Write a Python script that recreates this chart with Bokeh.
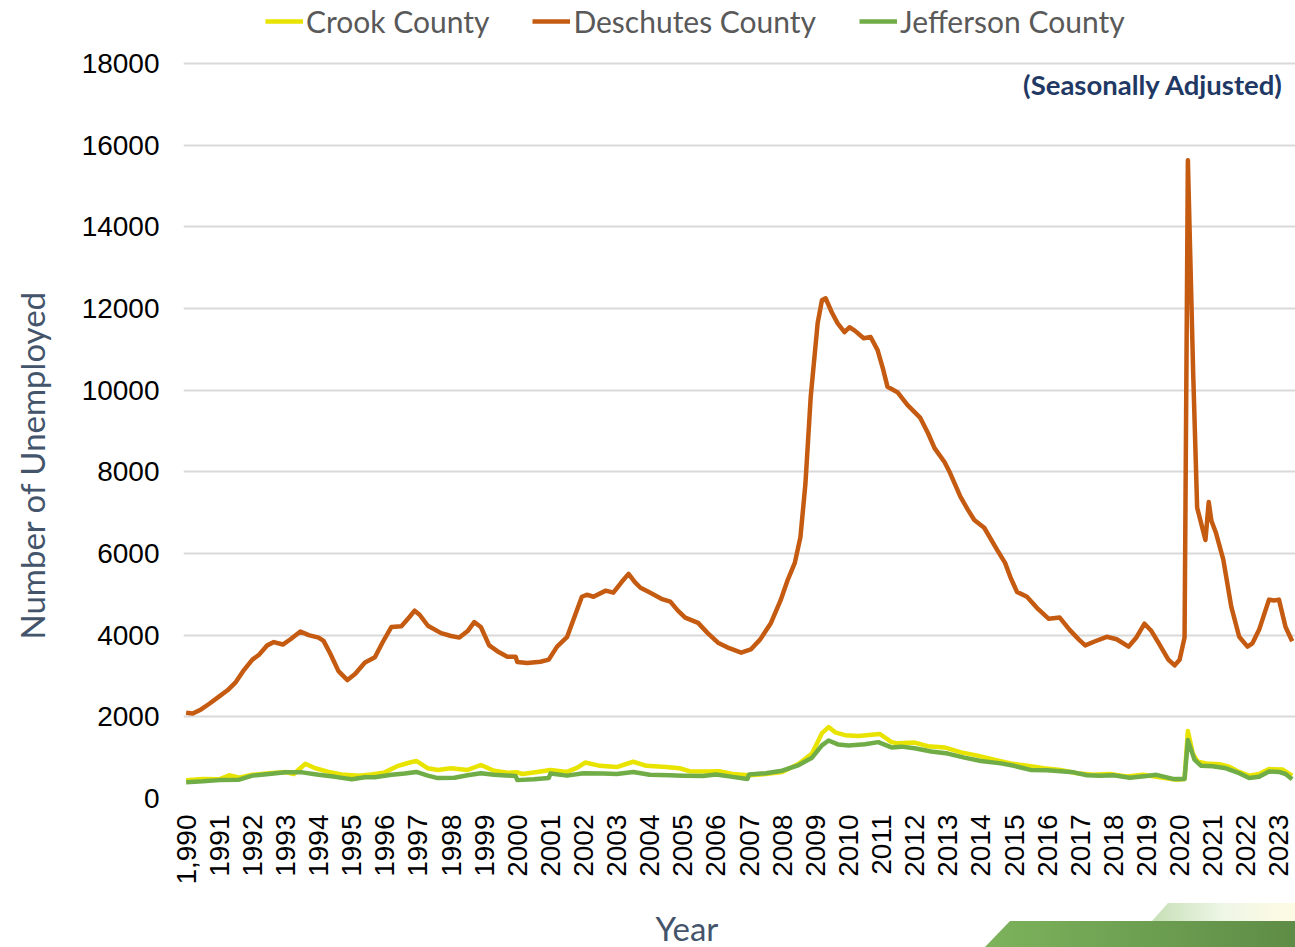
import math
from bokeh.plotting import figure
from bokeh.models import FixedTicker, Label, Legend, LegendItem, Range1d, Title, Div
from bokeh.embed import file_html
from bokeh.resources import INLINE

# ---------------- data ----------------
desch_t = [1990.00, 1990.20, 1990.45, 1990.70, 1991.00, 1991.25, 1991.50, 1991.75,
           1992.00, 1992.20, 1992.45, 1992.65, 1992.92, 1993.15, 1993.45, 1993.70,
           1994.00, 1994.15, 1994.35, 1994.60, 1994.87, 1995.10, 1995.40, 1995.70,
           1995.93, 1996.20, 1996.50, 1996.75, 1996.90, 1997.05, 1997.30, 1997.70,
           1998.00, 1998.25, 1998.50, 1998.70, 1998.90, 1999.15, 1999.45, 1999.70,
           1999.95, 2000.00, 2000.30, 2000.70, 2000.95, 2001.20, 2001.50, 2001.75,
           2001.95, 2002.10, 2002.30, 2002.67, 2002.90, 2003.15, 2003.36, 2003.55,
           2003.72, 2003.96, 2004.35, 2004.62, 2004.85, 2005.07, 2005.46, 2005.75,
           2006.06, 2006.40, 2006.76, 2007.05, 2007.33, 2007.66, 2007.95, 2008.17,
           2008.38, 2008.55, 2008.70, 2008.86, 2009.07, 2009.20, 2009.31, 2009.50,
           2009.67, 2009.88, 2010.03, 2010.20, 2010.46, 2010.67, 2010.88, 2011.05,
           2011.18, 2011.48, 2011.78, 2012.17, 2012.40, 2012.60, 2012.90, 2013.07,
           2013.38, 2013.60, 2013.80, 2014.10, 2014.49, 2014.73, 2014.90, 2015.09,
           2015.39, 2015.69, 2016.05, 2016.38, 2016.68, 2016.96, 2017.15, 2017.45,
           2017.80, 2018.10, 2018.46, 2018.70, 2018.94, 2019.15, 2019.36, 2019.66,
           2019.85, 2020.00, 2020.15, 2020.25, 2020.41, 2020.53, 2020.78, 2020.88,
           2020.96, 2021.10, 2021.32, 2021.56, 2021.80, 2022.05, 2022.20, 2022.40,
           2022.70, 2022.85, 2023.00, 2023.20, 2023.40]
desch_v = [2100, 2080, 2180, 2320, 2500, 2650, 2850, 3150,
           3400, 3520, 3750, 3830, 3770, 3900, 4090, 4000,
           3940, 3860, 3550, 3120, 2900, 3050, 3330, 3460,
           3820, 4200, 4220, 4450, 4600, 4500, 4230, 4050,
           3980, 3940, 4100, 4320, 4200, 3750, 3580, 3470,
           3470, 3340, 3320, 3350, 3400, 3720, 3950, 4500,
           4940, 4990, 4940, 5090, 5040, 5300, 5500, 5300,
           5160, 5060, 4890, 4820, 4600, 4430, 4300, 4050,
           3815, 3680, 3570, 3650, 3890, 4300, 4850, 5360,
           5770, 6400, 7700, 9830, 11640, 12200, 12250, 11900,
           11640, 11420, 11540, 11450, 11270, 11300, 10980, 10500,
           10080, 9950, 9640, 9320, 8950, 8580, 8240, 7970,
           7390, 7080, 6820, 6630, 6090, 5770, 5400, 5060,
           4940, 4670, 4400, 4430, 4130, 3890, 3750, 3850,
           3960, 3900, 3720, 3950, 4280, 4100, 3815, 3400,
           3260, 3400, 3940, 15630, 10420, 7120, 6330, 7260,
           6800, 6500, 5850, 4700, 3960, 3720, 3800, 4130,
           4870, 4850, 4870, 4200, 3850]

crook_t = [1990.00, 1990.50, 1991.00, 1991.30, 1991.60, 1992.00, 1992.50, 1993.00,
           1993.25, 1993.60, 1993.90, 1994.30, 1994.70, 1995.20, 1995.60, 1996.00,
           1996.40, 1996.70, 1996.95, 1997.30, 1997.60, 1998.00, 1998.50, 1998.90,
           1999.30, 1999.70, 2000.00, 2000.15, 2000.60, 2001.00, 2001.50, 2001.80,
           2002.05, 2002.50, 2003.00, 2003.50, 2003.90, 2004.50, 2004.90, 2005.20,
           2005.70, 2006.10, 2006.50, 2007.00, 2007.50, 2008.00, 2008.50, 2008.90,
           2009.20, 2009.40, 2009.60, 2009.90, 2010.30, 2010.70, 2010.95, 2011.30,
           2011.50, 2012.00, 2012.40, 2012.90, 2013.40, 2013.90, 2014.40, 2014.90,
           2015.40, 2015.90, 2016.40, 2016.90, 2017.40, 2017.90, 2018.40, 2018.90,
           2019.40, 2019.90, 2020.15, 2020.25, 2020.40, 2020.55, 2020.80, 2021.20,
           2021.50, 2021.80, 2022.10, 2022.40, 2022.70, 2023.10, 2023.40]
crook_v = [450, 480, 470, 570, 510, 580, 620, 650,
           600, 850, 740, 650, 590, 560, 590, 640,
           800, 870, 920, 740, 700, 740, 700, 820,
           680, 630, 640, 600, 650, 700, 650, 750,
           880, 800, 770, 900, 800, 770, 740, 670,
           660, 670, 600, 570, 600, 650, 850, 1100,
           1600, 1750, 1620, 1550, 1530, 1560, 1580, 1380,
           1350, 1370, 1280, 1250, 1130, 1050, 950, 860,
           800, 740, 700, 620, 580, 600, 540, 580,
           520, 460, 480, 1650, 1100, 900, 860, 840,
           780, 650, 560, 600, 720, 710, 560]

jeff_t = [1990.00, 1990.50, 1991.00, 1991.60, 1992.00, 1992.50, 1993.00, 1993.50,
          1994.00, 1994.50, 1995.00, 1995.40, 1995.70, 1996.20, 1996.60, 1996.95,
          1997.30, 1997.60, 1998.10, 1998.50, 1998.90, 1999.30, 1999.95, 2000.00,
          2000.50, 2000.95, 2001.00, 2001.50, 2002.00, 2002.60, 2003.00, 2003.50,
          2004.00, 2004.60, 2005.00, 2005.60, 2006.00, 2006.50, 2006.95, 2007.00,
          2007.50, 2008.00, 2008.50, 2008.90, 2009.20, 2009.40, 2009.70, 2010.00,
          2010.50, 2010.90, 2011.30, 2011.60, 2012.00, 2012.50, 2013.00, 2013.50,
          2014.00, 2014.60, 2015.00, 2015.50, 2016.00, 2016.50, 2016.80, 2017.20,
          2017.60, 2018.00, 2018.50, 2019.00, 2019.30, 2019.80, 2020.15, 2020.25,
          2020.45, 2020.65, 2021.00, 2021.40, 2021.80, 2022.10, 2022.40, 2022.70,
          2023.00, 2023.20, 2023.40]
jeff_v = [400, 420, 450, 460, 560, 600, 640, 640,
          580, 530, 470, 520, 520, 580, 610, 650,
          560, 500, 510, 570, 620, 580, 550, 450,
          470, 500, 610, 560, 620, 610, 600, 650,
          580, 570, 560, 550, 590, 530, 480, 590,
          620, 680, 820, 1000, 1300, 1420, 1320, 1300,
          1330, 1380, 1250, 1270, 1230, 1150, 1100, 1000,
          920, 860, 800, 700, 690, 660, 640, 570,
          560, 570, 510, 550, 580, 480, 480, 1430,
          950, 800, 790, 740, 620, 500, 530, 660,
          650, 600, 470]

series_names = ["Crook County", "Deschutes County", "Jefferson County"]
year_ticks = list(range(1990, 2024))
year_labels = ["1,990"] + [str(y) for y in range(1991, 2024)]
y_ticks = [0, 2000, 4000, 6000, 8000, 10000, 12000, 14000, 16000, 18000]

# ---------------- styling ----------------
C_CROOK = "#E8E400"
C_DESCH = "#C55A11"
C_JEFF = "#70AD47"
TITLE_COLOR = "#44546A"
HFONT = "Lato"
TFONT = "Liberation Sans"

W, H = 1295, 947
LEFT, BOTTOM = 183, 148
FRAME_H = H - BOTTOM
Y_TOP = y_ticks[-1] * FRAME_H / (FRAME_H - 63)   # leaves 63px above the 18000 line

p = figure(width=W, height=H, output_backend="svg", toolbar_location=None,
           x_range=Range1d(1989.92, 2023.5), y_range=Range1d(0, Y_TOP),
           min_border_left=LEFT, min_border_right=0, min_border_top=0,
           min_border_bottom=BOTTOM)
p.outline_line_color = None
p.background_fill_color = "white"
p.border_fill_color = "white"

r_c = p.line(crook_t, crook_v, line_color=C_CROOK, line_width=4.5, line_join="round")
r_d = p.line(desch_t, desch_v, line_color=C_DESCH, line_width=4.5, line_join="round")
r_j = p.line(jeff_t, jeff_v, line_color=C_JEFF, line_width=4.5, line_join="round")

# axes
p.xaxis.ticker = FixedTicker(ticks=year_ticks)
p.xaxis.major_label_overrides = {t: l for t, l in zip(year_ticks, year_labels)}
p.xaxis.major_label_orientation = math.pi / 2
p.yaxis.ticker = FixedTicker(ticks=y_ticks)
for ax in (p.xaxis[0], p.yaxis[0]):
    ax.axis_line_color = None
    ax.major_tick_line_color = None
    ax.minor_tick_line_color = None
    ax.major_label_text_font = TFONT
    ax.major_label_text_font_size = "28px"
    ax.major_label_text_color = "black"
p.yaxis.major_label_standoff = 18
p.xaxis.major_label_standoff = 10

p.xgrid.visible = False
p.ygrid.grid_line_color = "#D9D9D9"
p.ygrid.grid_line_width = 2

# legend (inside the extended frame, above the 18000 line)
legend = Legend(items=[LegendItem(label=series_names[0], renderers=[r_c]),
                       LegendItem(label=series_names[1], renderers=[r_d]),
                       LegendItem(label=series_names[2], renderers=[r_j])],
                orientation="horizontal", location=(82, FRAME_H - 40))
legend.glyph_width = 38
legend.glyph_height = 24
legend.label_standoff = 3
legend.spacing = 43
legend.padding = 0
legend.margin = 0
legend.border_line_color = None
legend.background_fill_alpha = 0
legend.label_text_font = HFONT
legend.label_text_font_size = "30px"
legend.label_text_color = "#595959"
legend.label_height = 36
p.add_layout(legend, "center")

p.add_layout(Label(x=W - LEFT - 12, y=FRAME_H - 85, x_units="screen", y_units="screen",
                   text="(Seasonally Adjusted)", text_align="right", text_baseline="middle",
                   text_font=HFONT, text_font_size="27.5px", text_font_style="bold",
                   text_color="#1F3864"))

# axis titles as side-panel titles (not clipped by the frame); a blank spacer
# title sits between each axis and its title
p.add_layout(Title(text=" ", text_font_size="14px", standoff=0), "below")
p.add_layout(Title(text="Year", align="left", offset=472, standoff=0,
                   text_font=HFONT, text_font_size="33px", text_font_style="normal",
                   text_color=TITLE_COLOR), "below")
p.add_layout(Title(text=" ", text_font_size="14px", standoff=0), "left")
p.add_layout(Title(text="Number of Unemployed", align="left", offset=159, standoff=17,
                   text_font=HFONT, text_font_size="33px", text_font_style="normal",
                   text_color=TITLE_COLOR), "left")

# slide decoration in the bottom-right corner (green banner)
deco_svg = (
    '<svg xmlns="http://www.w3.org/2000/svg" width="310" height="44">'
    '<defs>'
    '<linearGradient id="gl" x1="0" y1="0" x2="1" y2="0">'
    '<stop offset="0" stop-color="#C6E0B6"/><stop offset="0.5" stop-color="#EEF6E6"/>'
    '<stop offset="1" stop-color="#FFFBE4"/></linearGradient>'
    '<linearGradient id="gd" x1="0" y1="0" x2="1" y2="0">'
    '<stop offset="0" stop-color="#7DB35C"/><stop offset="1" stop-color="#5E8C46"/>'
    '</linearGradient></defs>'
    '<polygon points="183,0 310,0 310,18 167,18" fill="url(#gl)"/>'
    '<polygon points="25,18 310,18 310,44 0,44" fill="url(#gd)"/>'
    '</svg>')
deco = Div(text=deco_svg, width=310, height=44, margin=0,
           styles={"position": "absolute", "left": "985px", "top": "903px",
                   "overflow": "hidden"})

open("out.html", "w").write(file_html([p, deco], INLINE))
